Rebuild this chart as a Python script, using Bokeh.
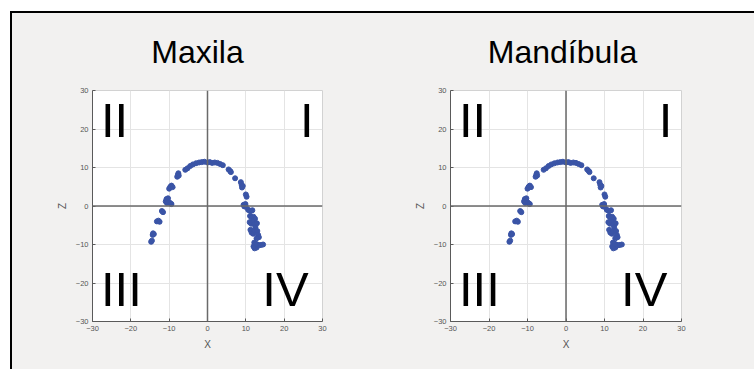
from bokeh.plotting import figure
from bokeh.layouts import row, column
from bokeh.models import Spacer, Span, FixedTicker, ColumnDataSource, Div
from bokeh.core.properties import value
from bokeh.embed import file_html
from bokeh.resources import INLINE

# ---- data ----
titles = ["Maxila", "Mandíbula"]
tick_values = [-30, -20, -10, 0, 10, 20, 30]
quadrant_labels = ["II", "I", "III", "IV"]
quadrant_x = [-27.8, 24.1, -27.8, 14.3]
quadrant_z = [29.4, 29.4, -14.6, -14.6]

maxila_x = [-14.7, -14.5, -14.3, -14.2, -14.0, -13.2, -12.8, -12.5, -11.9, -11.6,
            -10.9, -10.7, -10.5, -10.3, -10.6, -9.9, -9.6, -9.4,
            -10.0, -9.7, -9.4, -9.1, -7.9, -7.7, -7.6, -7.5,
            -5.8, -5.2, -4.5, -3.8, -3.0, -2.2, -1.5, -0.8, 0.0, 0.6, 1.2, 1.9, 2.6, 3.3, 4.0,
            5.5, 5.9, 6.1, 7.2, 8.7, 8.9, 9.0, 9.2, 10.0, 10.2,
            9.4, 9.6, 9.9, 10.0, 10.6, 11.0, 11.3, 11.7,
            11.1, 11.5, 12.0, 12.4, 11.0, 11.4, 11.9, 12.3, 12.9, 12.5,
            11.2, 11.5, 11.9, 12.3, 13.0, 13.2, 13.4, 12.8,
            12.2, 12.5, 12.8, 12.3, 13.0, 13.5, 14.0, 14.5, 12.0, 12.6]
maxila_z = [-9.3, -9.0, -7.5, -7.1, -7.3, -4.0, -3.8, -4.1, -1.3, -1.6,
            1.2, 1.8, 1.5, 2.0, 0.8, 0.9, 0.6, 0.5,
            4.5, 5.0, 5.3, 4.9, 7.6, 8.1, 8.5, 7.9,
            9.4, 9.8, 10.4, 10.8, 11.1, 11.3, 11.4, 11.5, 11.3, 11.4, 11.2, 11.3, 11.2, 10.9, 10.6,
            9.5, 9.1, 8.8, 7.2, 6.2, 5.5, 4.8, 5.2, 3.0, 2.4,
            0.3, -0.1, 0.5, -0.2, -1.0, -1.2, -1.3, -1.1,
            -2.6, -3.0, -2.8, -3.3, -4.2, -4.6, -4.1, -4.8, -4.5, -5.5,
            -6.2, -6.9, -7.2, -6.5, -6.5, -7.5, -8.1, -8.4,
            -9.5, -10.3, -10.8, -11.0, -10.0, -10.2, -10.1, -10.0, -10.5, -9.8]

mandibula_x = [-14.7, -14.5, -14.3, -14.2, -14.0, -13.2, -12.8, -12.5, -11.9, -11.6,
               -10.9, -10.7, -10.5, -10.3, -10.6, -9.9, -9.6, -9.4,
               -10.0, -9.7, -9.4, -9.1, -7.9, -7.7, -7.6, -7.5,
               -5.8, -5.2, -4.5, -3.8, -3.0, -2.2, -1.5, -0.8, 0.0, 0.6, 1.2, 1.9, 2.6, 3.3, 4.0,
               5.5, 5.9, 6.1, 7.2, 8.7, 8.9, 9.0, 9.2, 10.0, 10.2,
               9.4, 9.6, 9.9, 10.0, 10.6, 11.0, 11.3, 11.7,
               11.1, 11.5, 12.0, 12.4, 11.0, 11.4, 11.9, 12.3, 12.9, 12.5,
               11.2, 11.5, 11.9, 12.3, 13.0, 13.2, 13.4, 12.8,
               12.2, 12.5, 12.8, 12.3, 13.0, 13.5, 14.0, 14.5, 12.0, 12.6]
mandibula_z = [-9.3, -9.0, -7.5, -7.1, -7.3, -4.0, -3.8, -4.1, -1.3, -1.6,
               1.2, 1.8, 1.5, 2.0, 0.8, 0.9, 0.6, 0.5,
               4.5, 5.0, 5.3, 4.9, 7.6, 8.1, 8.5, 7.9,
               9.4, 9.8, 10.4, 10.8, 11.1, 11.3, 11.4, 11.5, 11.3, 11.4, 11.2, 11.3, 11.2, 10.9, 10.6,
               9.5, 9.1, 8.8, 7.2, 6.2, 5.5, 4.8, 5.2, 3.0, 2.4,
               0.3, -0.1, 0.5, -0.2, -1.0, -1.2, -1.3, -1.1,
               -2.6, -3.0, -2.8, -3.3, -4.2, -4.6, -4.1, -4.8, -4.5, -5.5,
               -6.2, -6.9, -7.2, -6.5, -6.5, -7.5, -8.1, -8.4,
               -9.5, -10.3, -10.8, -11.0, -10.0, -10.2, -10.1, -10.0, -10.5, -9.8]

BG = "#f2f1f0"
FONT = "Liberation Sans"
DOT = "#3a54a6"


def make_title(title, pad_left, pad_right):
    inner_w = 371 - pad_left - pad_right
    html = ('<div style="margin:0;padding:23px %dpx 0 %dpx;width:%dpx;'
            'text-align:center;font-family:\'Liberation Sans\';font-size:32px;'
            'line-height:32px;color:black;white-space:nowrap;">%s</div>'
            % (pad_right, pad_left, inner_w, title))
    return Div(text=html, width=371, height=60,
               styles={"background-color": BG, "margin": "0", "padding": "0"})


def make_panel(xs, zs, left, right):
    p = figure(width=371, height=296, x_range=(-30, 30), y_range=(-30, 30),
               output_backend="svg", toolbar_location=None,
               min_border_left=left, min_border_right=right,
               min_border_top=17, min_border_bottom=48)
    p.background_fill_color = "white"
    p.border_fill_color = BG
    p.outline_line_color = "#d2d2d2"
    p.styles = {"background-color": BG}

    for ax in (p.below[0], p.left[0]):
        ax.ticker = FixedTicker(ticks=tick_values)
        ax.axis_line_color = "#5a5a5a"
        ax.major_tick_line_color = "#5a5a5a"
        ax.major_tick_in = 3
        ax.major_tick_out = 0
        ax.minor_tick_line_color = None
        ax.major_label_text_font = FONT
        ax.major_label_text_font_size = "7.5px"
        ax.major_label_text_color = "#555555"
        ax.axis_label_text_font = FONT
        ax.axis_label_text_font_size = "10px"
        ax.axis_label_text_font_style = "normal"
        ax.axis_label_text_color = "#555555"
        ax.major_label_standoff = 4
        ax.axis_label_standoff = 5
    p.below[0].axis_label = "X"
    p.left[0].axis_label = "Z"

    p.grid.ticker = FixedTicker(ticks=tick_values)
    p.grid.grid_line_color = "#e4e4e4"

    p.add_layout(Span(location=0, dimension="height", line_color="#6a6a6a", line_width=1.5))
    p.add_layout(Span(location=0, dimension="width", line_color="#6a6a6a", line_width=1.5))

    p.scatter(xs, zs, size=5, marker="circle", fill_color=DOT, line_color=DOT)

    src = ColumnDataSource(dict(x=quadrant_x, y=quadrant_z, t=quadrant_labels))
    p.text(x="x", y="y", text="t", source=src, text_font=value(FONT),
           text_font_size="49px", text_color="black",
           text_align="left", text_baseline="top")
    return p


p1 = make_panel(maxila_x, maxila_z, 80, 61)
p2 = make_panel(mandibula_x, mandibula_z, 67, 73)
col1 = column(make_title(titles[0], 19, 0), p1)
col2 = column(make_title(titles[1], 0, 6), p2)

top_white = Spacer(width=754, height=11)
top_line = row(Spacer(width=10, height=2),
               Spacer(width=744, height=2, styles={"background-color": "black"}))
body = row(Spacer(width=10, height=356),
           Spacer(width=2, height=356, styles={"background-color": "black"}),
           col1, col2)
layout = column(top_white, top_line, body)

open("out.html", "w").write(file_html(layout, INLINE))
